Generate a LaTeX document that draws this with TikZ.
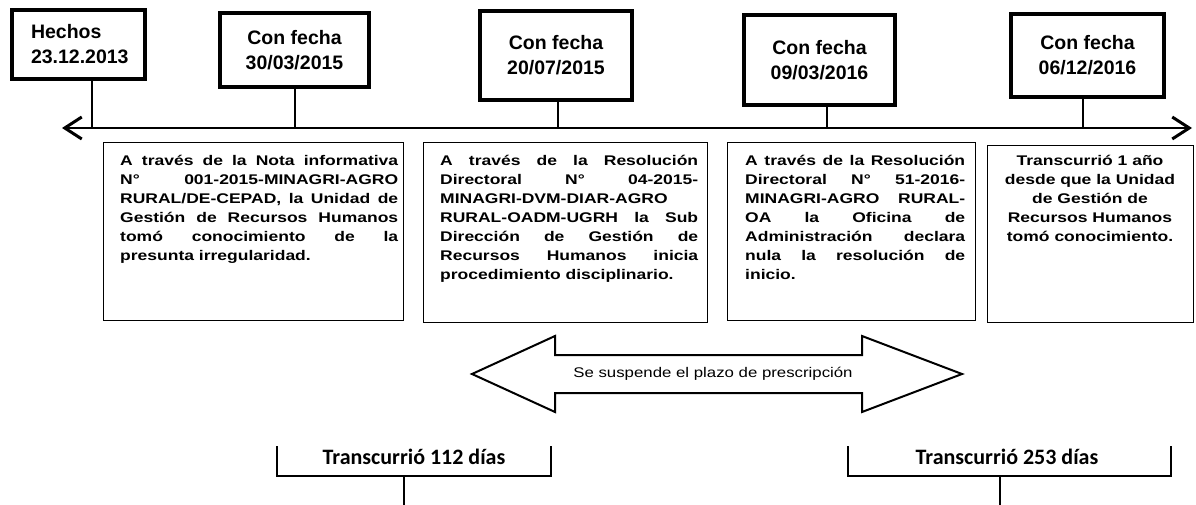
\documentclass[tikz,border=0pt]{standalone}
\usepackage{fontspec}
\setmainfont{Liberation Sans}
\newfontfamily\stretchfont{Liberation Sans}[FakeStretch=1.25]
\newfontfamily\arrowfont{Liberation Sans}[FakeStretch=1.2]
\newfontfamily\calfont{Carlito}
\usetikzlibrary{arrows.meta}
\newcommand\jl[1]{\makebox[\linewidth][s]{#1}}
\begin{document}
\begin{tikzpicture}[x=1pt,y=-1pt,
  datebox/.style={draw, line width=3.2pt, inner sep=0pt, align=center,
    font=\fontsize{19.5}{25}\selectfont\bfseries},
  ticker/.style={line width=2pt},
  timeline/.style={line width=2.6pt,
    {Straight Barb[length=17pt,width=22pt,line width=3pt]}-{Straight Barb[length=17pt,width=22pt,line width=3pt]}},
  textbox/.style={draw, line width=1.4pt, inner sep=0pt},
  boxtext/.style={inner sep=0pt, anchor=base west,
    font=\stretchfont\bfseries\fontsize{14}{19}\selectfont},
  bigarrow/.style={draw, line width=2pt, line join=miter},
  bracket/.style={line width=2pt},
  daytext/.style={inner sep=0pt, anchor=base, font=\calfont\bfseries\fontsize{22}{26}\selectfont}
]
\useasboundingbox (0,0) rectangle (1196,505);

% top date boxes
\node[datebox, minimum width=133pt, minimum height=69pt, text width=95pt, align=left] (t1) at (78.5,44.5) {Hechos\\23.12.2013};
\node[datebox, minimum width=149pt, minimum height=74pt] (t2) at (294.5,50) {Con fecha\\30/03/2015};
\node[datebox, minimum width=152pt, minimum height=89pt] (t3) at (556,55.5) {Con fecha\\20/07/2015};
\node[datebox, minimum width=151pt, minimum height=90pt] (t4) at (819.5,60) {Con fecha\\09/03/2016};
\node[datebox, minimum width=153pt, minimum height=83pt] (t5) at (1087.5,55.5) {Con fecha\\06/12/2016};

% timeline
\coordinate (L) at (62,128);
\coordinate (R) at (1192,128);
\draw[timeline] (L) -- (R);
\coordinate (k1) at (92,128);
\coordinate (k2) at (295,128);
\coordinate (k3) at (558,128);
\coordinate (k4) at (827,128);
\coordinate (k5) at (1083,128);
\draw[ticker] (t1.south -| k1) -- (k1);
\draw[ticker] (t2.south -| k2) -- (k2);
\draw[ticker] (t3.south -| k3) -- (k3);
\draw[ticker] (t4.south -| k4) -- (k4);
\draw[ticker] (t5.south -| k5) -- (k5);

% text boxes
\node[textbox, minimum width=300pt, minimum height=178pt, anchor=north west] (bA) at (103,142) {};
\node[textbox, minimum width=284pt, minimum height=180pt, anchor=north west] (bB) at (423,142) {};
\node[textbox, minimum width=248pt, minimum height=178pt, anchor=north west] (bC) at (727,142) {};
\node[textbox, minimum width=206pt, minimum height=177pt, anchor=north west] (bD) at (987,145) {};

\node[boxtext] (tA) at (120,166) {\parbox[t]{278pt}{%
\jl{A través de la Nota informativa}\\
\jl{N° 001-2015-MINAGRI-AGRO}\\
\jl{RURAL/DE-CEPAD, la Unidad de}\\
\jl{Gestión de Recursos Humanos}\\
\jl{tomó conocimiento de la}\\
presunta irregularidad.}};

\node[boxtext] (tB) at (440,166) {\parbox[t]{258pt}{%
\jl{A través de la Resolución}\\
\jl{Directoral N° 04-2015-}\\
MINAGRI-DVM-DIAR-AGRO\\
\jl{RURAL-OADM-UGRH la Sub}\\
\jl{Dirección de Gestión de}\\
\jl{Recursos Humanos inicia}\\
procedimiento disciplinario.}};

\node[boxtext] (tC) at (745,166) {\parbox[t]{220pt}{%
\jl{A través de la Resolución}\\
\jl{Directoral N° 51-2016-}\\
\jl{MINAGRI-AGRO RURAL-}\\
\jl{OA la Oficina de}\\
\jl{Administración declara}\\
\jl{nula la resolución de}\\
inicio.}};

\node[boxtext, anchor=base] (tD) at (1090,166) {\parbox[t]{200pt}{\centering
Transcurrió 1 año\\
desde que la Unidad\\
de Gestión de\\
Recursos Humanos\\
tomó conocimiento.}};

% double arrow
\coordinate (a1) at (472,374);
\coordinate (a2) at (555,336);
\coordinate (a3) at (555,355);
\coordinate (a4) at (862,355);
\coordinate (a5) at (862,336);
\coordinate (a6) at (962,374);
\coordinate (a7) at (862,412);
\coordinate (a8) at (862,393);
\coordinate (a9) at (555,393);
\coordinate (a10) at (555,412);
\draw[bigarrow] (a1) -- (a2) -- (a3) -- (a4) -- (a5) -- (a6) -- (a7) -- (a8) -- (a9) -- (a10) -- cycle;
\node[inner sep=0pt, font=\arrowfont\fontsize{14}{16}\selectfont] (susp) at (713,374) {Se suspende el plazo de prescripción};

% bracket 1
\node[daytext] (d1) at (414,464) {Transcurrió 112 días};
\coordinate (p1) at (277,446);
\coordinate (p2) at (277,476);
\coordinate (p3) at (551,476);
\coordinate (p4) at (551,446);
\coordinate (s1) at (404,476);
\coordinate (s1e) at (404,505);
\draw[bracket] (p1) -- (p2) -- (p3) -- (p4);
\draw[bracket] (s1) -- (s1e);

% bracket 2
\node[daytext] (d2) at (1007,464) {Transcurrió 253 días};
\coordinate (q1) at (848,446);
\coordinate (q2) at (848,476);
\coordinate (q3) at (1171,476);
\coordinate (q4) at (1171,446);
\coordinate (s2) at (1000,476);
\coordinate (s2e) at (1000,505);
\draw[bracket] (q1) -- (q2) -- (q3) -- (q4);
\draw[bracket] (s2) -- (s2e);
\end{tikzpicture}
\end{document}
